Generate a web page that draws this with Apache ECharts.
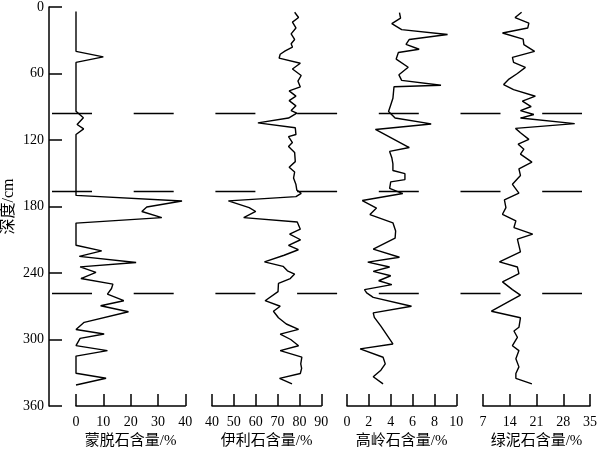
<!DOCTYPE html>
<html>
<head>
<meta charset="utf-8">
<script src="https://cdn.jsdelivr.net/npm/echarts@6/dist/echarts.min.js"></script>
<style>
html,body{margin:0;padding:0;background:#fff;}
#chart{width:600px;height:454px;}
</style>
</head>
<body>
<div id="chart"></div>
<script>
// ---- Data ----
const depthTicks = {min: 0, max: 360, interval: 60};
const boundaryDepths = [94, 163, 254];

const montDepth = [4,40,45,50,94,100,106,110,115,170,175,180.5,184.5,190,195,215,220,225,230.5,234.5,239.5,245,250,254,259,265,269.5,275,284.5,291,295,299,305.5,310,315,330.5,335,341];
const montValue = [0,0,10,0,0,2.7,0.4,2.8,0,0,38.8,25.9,24.1,31.4,0,0,9.4,1.2,22,1.5,7.3,1.8,13.5,13,11.5,17.5,9,19.2,3,0,10.3,1.5,0,11.5,0,0,11,0];

const illDepth = [4.7,9.5,13.6,18.9,24.2,29.3,33.1,36.1,39.6,42.6,46.1,50.8,55.9,61.8,66.8,72.1,75.7,80.4,84.5,89.2,93.4,95.7,100.2,104.5,109,115,117,122.3,125.9,131.2,139.5,144.5,148.9,154.3,160.2,165.2,168.1,171.1,174.9,181,184.5,190,194,200.5,205,210,215,219,224,230,234,238,241,245,249.4,256.8,265,270,274.5,280.4,286,290.8,295.2,300,305.6,310,315.9,322,326,330.7,335.1,340.1];
const illValue = [77.8,79.6,76.8,78.4,76.2,77.8,76.2,76.8,73.5,71.2,70.7,80.4,76.8,80.8,79.3,80.4,75.3,78.4,75.3,78.4,76.2,78.8,75,61,78.1,78.4,75,76.8,75,77.8,78.1,75.3,77.8,77.3,78.4,78.8,80.8,78.4,47.5,57,60,54.5,79,80.4,75.5,80.5,75,79.5,73,64,72.5,74.5,77.8,75.8,70.4,70.2,64.3,71.2,68.1,70.4,74,79.6,71.2,76,79.6,71.2,81.1,80.6,81,80.4,70.9,76.6];

const kaolDepth = [5,10,15,20.4,24.8,29.3,33.7,38.1,41.1,47,54.4,61.2,66.2,70.6,72,82.4,88.4,94.3,100.2,105.5,110.5,126.8,130.3,136,141.5,147.5,150.4,155.7,157.8,163.7,168.3,174.6,181.4,187.3,194.7,202.1,208.6,218.4,225.8,230.2,234.6,238.5,242.5,247,250.5,255,258,262,270,276,280,288,304,308.5,316,322,327.7,333.6,340];
const kaolValue = [4.8,4.9,4.1,5,9.2,5.7,5.4,6.6,4.7,4.5,5.6,4.75,5,8.6,4.3,4.2,4.0,3.8,4.4,7.7,2.6,5.7,3.9,4.1,4.2,4.2,5.3,5.3,4.0,3.9,5.1,1.4,2.7,2.1,4.2,4.45,4.4,2.4,4.8,1.9,3.9,2.4,4.0,2.9,4.1,1.6,1.8,2.4,5.9,2.4,2.5,3.1,4.2,1.2,3.3,3.5,3.1,2.4,3.3];

const chlDepth = [4.7,9.5,14.5,19,23.5,29,34,40,45.5,50,54.5,60,65,70,74.5,80.5,85,89.8,93.5,97,100.2,105.2,109.5,113.5,119.4,123.8,128.3,132.7,140,146,152,160,168,174,181,187,193,199,205,209.5,221,230,234.6,240.5,248,255,260,274.5,280.4,289,292.3,298,305.6,310,317.4,324.7,330.7,335,340];
const chlValue = [17.1,15.4,19,18.7,12.1,17.5,17.7,20.5,14.7,15,18.1,16,13.8,12.4,15,20.7,17.3,19.6,16.8,20.3,16.8,31,15.5,16.8,19,16.2,17.7,16.8,19.8,16.4,16.8,14.7,16.4,12.6,13,12.1,15.6,15.1,20,16,16.8,11.3,16,16.4,12.1,14.7,16.8,9.2,16.8,16.4,15.1,16,14.7,16.4,15.6,16.4,15.6,15.6,19.8];

const panelNames = ['蒙脱石含量/%','伊利石含量/%','高岭石含量/%','绿泥石含量/%'];
const xMins = [0, 40, 0, 7];
const xMaxs = [40, 90, 10, 35];
const xSteps = [10, 10, 2, 7];
const depthName = '深度/cm';

// ---- Chart ----
const FONT = '"Liberation Serif","Times New Roman","Noto Sans CJK SC",serif';
const CJK = '"Liberation Serif","Noto Sans CJK SC",serif';
const seriesDepths = [montDepth, illDepth, kaolDepth, chlDepth];
const seriesValues = [montValue, illValue, kaolValue, chlValue];
const gridLefts = [76, 212, 347, 483];
const gridWidth = 109.3;
const TOP = 7, HEIGHT = 406;

const lineCol = '#000';
const grids = gridLefts.map(l => ({left: l, width: gridWidth, top: TOP, height: HEIGHT}));
grids.push({left: 52, width: 530, top: TOP, height: HEIGHT});

const xAxes = panelNames.map((n, i) => ({
  gridIndex: i, type: 'value', min: xMins[i], max: xMaxs[i], interval: xSteps[i],
  position: 'bottom',
  axisLine: {show: true, onZero: false, lineStyle: {color: lineCol, width: 1.5}},
  axisTick: {show: true, inside: true, length: 12, lineStyle: {color: lineCol, width: 1.5}},
  axisLabel: {color: '#000', fontSize: 14, margin: 9, fontFamily: FONT},
  splitLine: {show: false},
  name: n, nameLocation: 'middle', nameGap: 28,
  nameTextStyle: {color: '#000', fontSize: 15, fontFamily: CJK}
}));
xAxes.push({gridIndex: 4, type: 'value', min: 0, max: 1, show: false});

const yAxes = [0,1,2,3].map(i => ({
  gridIndex: i, type: 'value', inverse: true,
  min: depthTicks.min, max: depthTicks.max, interval: depthTicks.interval,
  show: i === 0,
  position: 'left', offset: 27,
  axisLine: {show: true, onZero: false, lineStyle: {color: lineCol, width: 1.5}},
  axisTick: {show: true, inside: true, length: 13, lineStyle: {color: lineCol, width: 1.5}},
  axisLabel: {color: '#000', fontSize: 14, margin: 5, fontFamily: FONT},
  splitLine: {show: false},
  name: i === 0 ? depthName : '', nameLocation: 'middle', nameGap: 32,
  nameTextStyle: {color: '#000', fontSize: 16, fontFamily: CJK}
}));
yAxes.push({gridIndex: 4, type: 'value', inverse: true, min: depthTicks.min, max: depthTicks.max, show: false});

const series = seriesDepths.map((d, i) => ({
  type: 'line', xAxisIndex: i, yAxisIndex: i,
  data: d.map((dep, k) => [seriesValues[i][k], dep]),
  symbol: 'none', showSymbol: false,
  lineStyle: {color: lineCol, width: 1.4},
  silent: true
}));
series.push({
  type: 'line', xAxisIndex: 4, yAxisIndex: 4,
  data: [[0, 0]], symbol: 'none', showSymbol: false,
  lineStyle: {opacity: 0},
  markLine: {
    silent: true, symbol: ['none', 'none'], animation: false,
    label: {show: false},
    lineStyle: {color: lineCol, width: 1.3, type: [40, 41.7]},
    data: boundaryDepths.map(v => ({yAxis: v}))
  }
});

const chart = echarts.init(document.getElementById('chart'), null, {renderer: 'canvas'});
chart.setOption({
  animation: false,
  backgroundColor: '#fff',
  grid: grids,
  xAxis: xAxes,
  yAxis: yAxes,
  series: series
});
</script>
</body>
</html>
